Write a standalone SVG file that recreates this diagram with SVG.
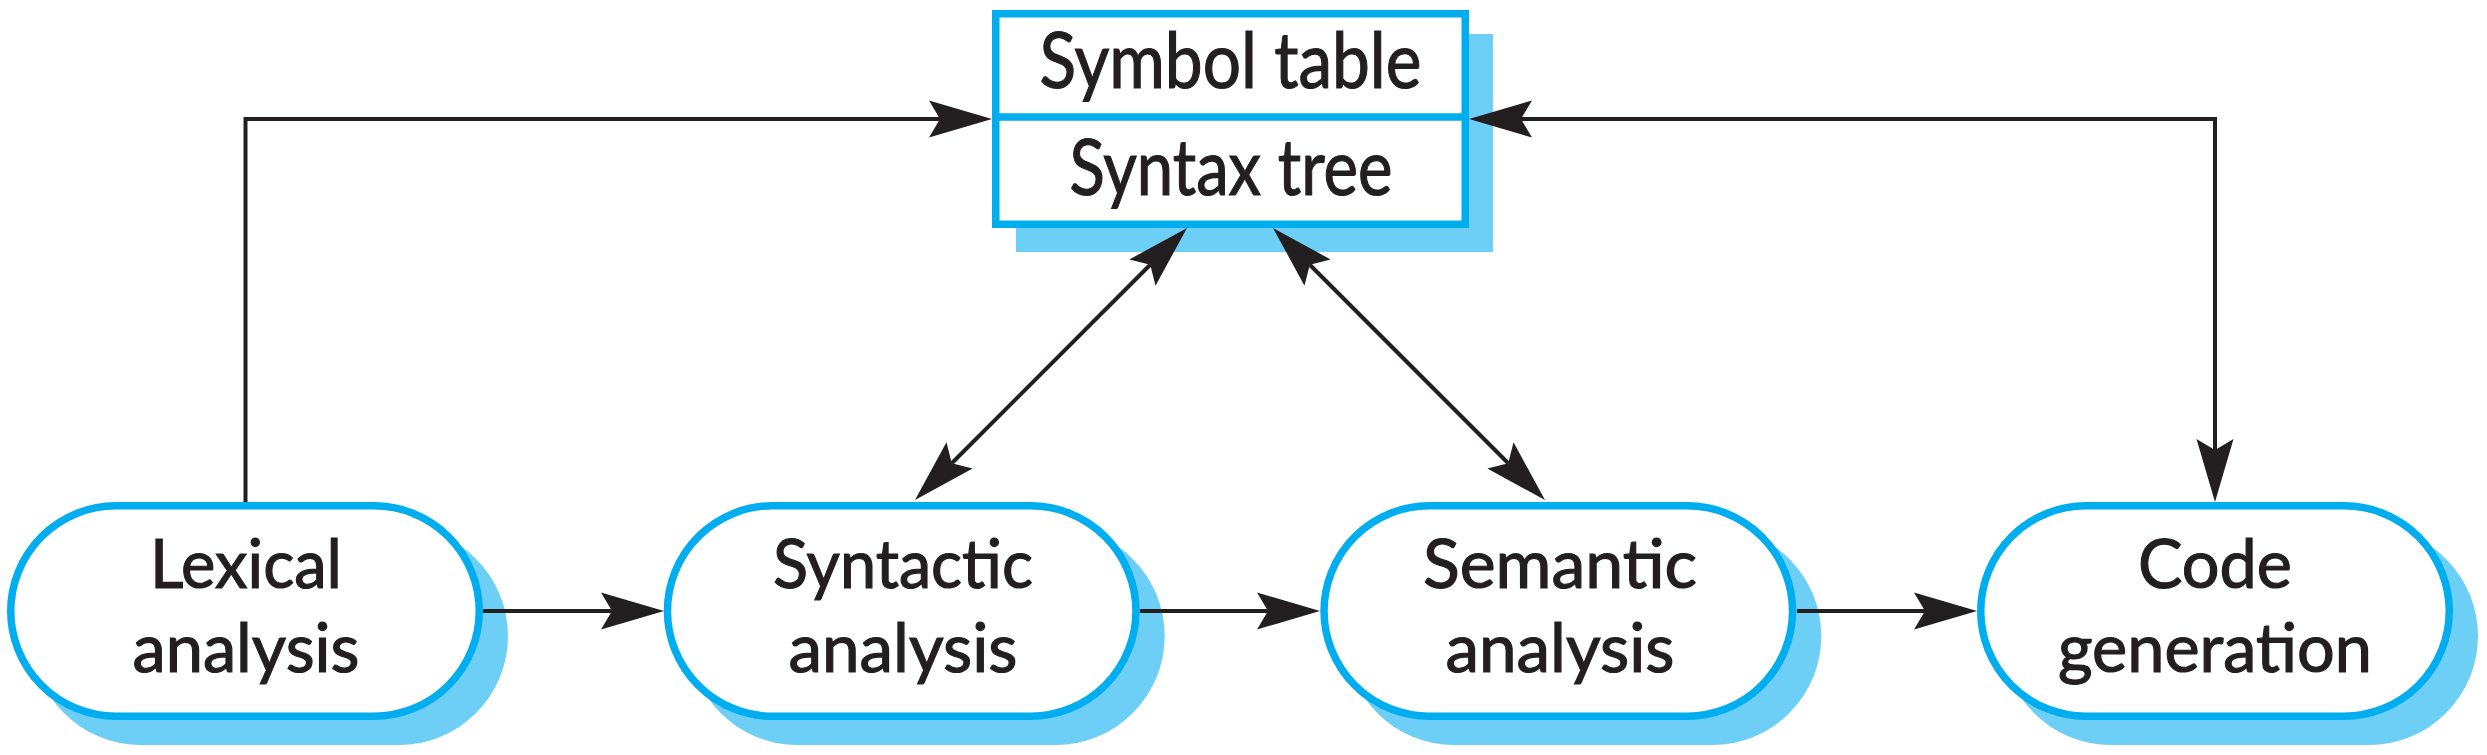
<svg xmlns="http://www.w3.org/2000/svg" width="2487" height="755" viewBox="0 0 2487 755">
  <style>
    .shadow { fill: #6dcff6; stroke: none; }
    .node { fill: #ffffff; stroke: #00aeef; stroke-width: 7.5; }
    .lbl { font-family: Lato, "Liberation Sans", sans-serif; font-size: 67px; fill: #231f20; stroke: #231f20; stroke-width: 1.2; text-anchor: middle; }
    .tlbl { font-family: Lato, "Liberation Sans", sans-serif; font-size: 77px; fill: #231f20; stroke: #231f20; stroke-width: 1.2; text-anchor: middle; }
    .conn { fill: none; stroke: #231f20; stroke-width: 4; }
  </style>
  <defs>
    <marker id="arrow" markerUnits="userSpaceOnUse" markerWidth="70" markerHeight="40" refX="0" refY="0" orient="auto-start-reverse" overflow="visible" viewBox="-12 -20 66 40">
      <path d="M52,0 L-11,-18.5 L0,0 L-11,18.5 Z" fill="#231f20"/>
    </marker>
  </defs>

  <g id="symbol-table">
    <rect class="shadow" x="1016" y="34" width="477" height="218"/>
    <rect class="node" x="995.75" y="13.75" width="469.5" height="210.5"/>
    <line x1="992" y1="117" x2="1469" y2="117" stroke="#00aeef" stroke-width="7.5"/>
    <text class="tlbl" x="1230.5" y="88" textLength="382" lengthAdjust="spacingAndGlyphs">Symbol table</text>
    <text class="tlbl" x="1231" y="195" textLength="323" lengthAdjust="spacingAndGlyphs">Syntax tree</text>
  </g>

  <g id="lexical">
    <rect class="shadow" x="32" y="527" width="476" height="218" rx="109" ry="109"/>
    <rect class="node" x="10.75" y="505.75" width="468.5" height="210.5" rx="105.25" ry="105.25"/>
    <text class="lbl" x="246" y="588" textLength="192" lengthAdjust="spacingAndGlyphs">Lexical</text>
    <text class="lbl" x="246" y="672" textLength="227" lengthAdjust="spacingAndGlyphs">analysis</text>
  </g>

  <g id="syntactic">
    <rect class="shadow" x="688.7" y="527" width="476" height="218" rx="109" ry="109"/>
    <rect class="node" x="667.45" y="505.75" width="468.5" height="210.5" rx="105.25" ry="105.25"/>
    <text class="lbl" x="903" y="588" textLength="260" lengthAdjust="spacingAndGlyphs">Syntactic</text>
    <text class="lbl" x="903" y="672" textLength="229" lengthAdjust="spacingAndGlyphs">analysis</text>
  </g>

  <g id="semantic">
    <rect class="shadow" x="1345.3" y="527" width="476" height="218" rx="109" ry="109"/>
    <rect class="node" x="1324.05" y="505.75" width="468.5" height="210.5" rx="105.25" ry="105.25"/>
    <text class="lbl" x="1560" y="588" textLength="274" lengthAdjust="spacingAndGlyphs">Semantic</text>
    <text class="lbl" x="1560" y="672" textLength="229" lengthAdjust="spacingAndGlyphs">analysis</text>
  </g>

  <g id="codegen">
    <rect class="shadow" x="2002" y="527" width="476" height="218" rx="109" ry="109"/>
    <rect class="node" x="1980.75" y="505.75" width="468.5" height="210.5" rx="105.25" ry="105.25"/>
    <text class="lbl" x="2215" y="588" textLength="154" lengthAdjust="spacingAndGlyphs">Code</text>
    <text class="lbl" x="2215" y="672" textLength="314" lengthAdjust="spacingAndGlyphs">generation</text>
  </g>

  <g id="connectors">
    <path class="conn" d="M245.5,502 V119 H940" marker-end="url(#arrow)"/>
    <path class="conn" d="M1521,119 H2215 V450" marker-start="url(#arrow)" marker-end="url(#arrow)"/>
    <path class="conn" d="M951.77,463.23 L1150.23,264.77" marker-start="url(#arrow)" marker-end="url(#arrow)"/>
    <path class="conn" d="M1309.77,264.77 L1508.23,463.23" marker-start="url(#arrow)" marker-end="url(#arrow)"/>
    <path class="conn" d="M483,611 H612" marker-end="url(#arrow)"/>
    <path class="conn" d="M1140,611 H1268" marker-end="url(#arrow)"/>
    <path class="conn" d="M1797,611 H1925" marker-end="url(#arrow)"/>
  </g>
</svg>
